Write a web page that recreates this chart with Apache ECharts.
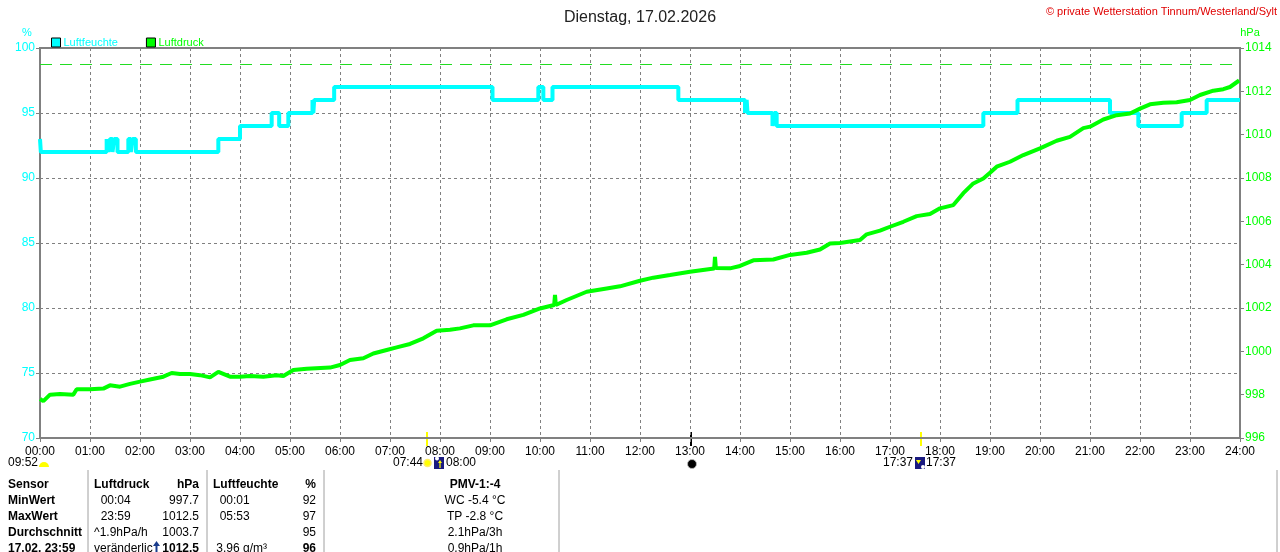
<!DOCTYPE html>
<html>
<head>
<meta charset="utf-8">
<script src="https://cdn.jsdelivr.net/npm/echarts@6.0.0/dist/echarts.min.js"></script>
<style>
  html, body { margin: 0; padding: 0; background: #fff; }
  #chart-container { width: 1280px; height: 552px; }
</style>
</head>
<body>
<div id="chart-container"></div>
<script>
// Tick labels
const xTickLabels = ["00:00", "01:00", "02:00", "03:00", "04:00", "05:00", "06:00", "07:00", "08:00",
  "09:00", "10:00", "11:00", "12:00", "13:00", "14:00", "15:00", "16:00", "17:00", "18:00",
  "19:00", "20:00", "21:00", "22:00", "23:00", "24:00"];

// Luftdruck (hPa)
const pressureTimes = ["00:00", "00:04", "00:12", "00:24", "00:40", "00:44", "01:00", "01:16", "01:24", "01:36",
  "01:48", "02:00", "02:12", "02:28", "02:38", "02:48", "03:00", "03:12", "03:24", "03:34",
  "03:48", "04:00", "04:12", "04:28", "04:44", "04:52", "05:04", "05:20", "05:48", "06:00",
  "06:12", "06:28", "06:40", "06:56", "07:08", "07:24", "07:40", "07:56", "08:12", "08:24",
  "08:40", "09:00", "09:20", "09:40", "10:00", "10:17", "10:18", "10:19", "10:32", "10:56",
  "11:20", "11:36", "12:00", "12:16", "12:36", "13:00", "13:20", "13:29", "13:30", "13:31",
  "13:48", "14:00", "14:16", "14:40", "15:00", "15:20", "15:36", "15:48", "16:00", "16:24",
  "16:32", "16:48", "17:00", "17:16", "17:32", "17:48", "18:00", "18:16", "18:28", "18:40",
  "18:52", "19:00", "19:08", "19:24", "19:40", "20:00", "20:20", "20:36", "20:52", "21:00",
  "21:16", "21:32", "21:48", "22:00", "22:12", "22:28", "22:44", "23:00", "23:12", "23:28",
  "23:40", "23:48", "23:59"];
const pressureValues = [997.8, 997.7, 998.0, 998.03, 998.0, 998.25, 998.25, 998.28, 998.43, 998.37,
  998.5, 998.6, 998.7, 998.83, 999.0, 998.95, 998.95, 998.9, 998.8, 999.05,
  998.83, 998.83, 998.86, 998.83, 998.9, 998.86, 999.14, 999.2, 999.25, 999.37,
  999.6, 999.68, 999.9, 1000.06, 1000.18, 1000.34, 1000.6, 1000.95, 1001.0, 1001.06,
  1001.2, 1001.2, 1001.48, 1001.68, 1001.98, 1002.14, 1002.6, 1002.14, 1002.37, 1002.75,
  1002.9, 1003.0, 1003.26, 1003.4, 1003.52, 1003.67, 1003.78, 1003.82, 1004.36, 1003.85,
  1003.83, 1003.94, 1004.2, 1004.24, 1004.45, 1004.55, 1004.7, 1004.98, 1005.0, 1005.14,
  1005.4, 1005.57, 1005.75, 1005.98, 1006.24, 1006.34, 1006.6, 1006.75, 1007.3, 1007.75,
  1007.98, 1008.24, 1008.52, 1008.75, 1009.06, 1009.37, 1009.72, 1009.9, 1010.3, 1010.37,
  1010.7, 1010.9, 1010.98, 1011.2, 1011.4, 1011.47, 1011.5, 1011.6, 1011.83, 1012.03,
  1012.1, 1012.2, 1012.5];

// Luftfeuchte (%), value holds from its time until the next one
const humidityTimes = ["00:00", "00:01", "01:20", "01:22", "01:24", "01:27", "01:29", "01:33", "01:46", "01:49",
  "01:51", "01:55", "03:34", "04:00", "04:38", "04:47", "04:58", "05:27", "05:28", "05:29",
  "05:53", "09:03", "09:58", "10:04", "10:15", "12:46", "14:06", "14:08", "14:09", "14:39",
  "14:41", "14:44", "18:52", "19:33", "21:24", "21:58", "22:50", "23:20", "24:00"];
const humidityValues = [93, 92, 93, 92, 93, 92, 93, 92, 93, 92,
  93, 92, 93, 94, 95, 94, 95, 96, 95, 96,
  97, 96, 97, 96, 97, 96, 95, 96, 95, 94,
  95, 94, 95, 96, 95, 94, 95, 96, 96];

const normalPressure = 1013.25;

const CYAN = "#00ffff";
const GREEN = "#00ff00";
const GRAY = "#808080";
const FONT = "'Liberation Sans', Arial, sans-serif";

function toHours(t) {
  const [h, m] = t.split(":").map(Number);
  return h + m / 60;
}

const pressureData = pressureTimes.map((t, i) => [toHours(t), pressureValues[i]]);
const humidityData = humidityTimes.map((t, i) => [toHours(t), humidityValues[i]]);

// Tabelle unten
const tableRows = [
  ["Sensor", "Luftdruck", "hPa", "Luftfeuchte", "%", "PMV-1:-4"],
  ["MinWert", "  00:04", "997.7", "  00:01", "92", "WC -5.4 °C"],
  ["MaxWert", "  23:59", "1012.5", "  05:53", "97", "TP -2.8 °C"],
  ["Durchschnitt", "^1.9hPa/h", "1003.7", "", "95", "2.1hPa/3h"],
  ["17.02. 23:59", "veränderlich", "1012.5", " 3.96 g/m³", "96", "0.9hPa/1h"]
];

function tableGraphics() {
  const els = [];
  const rowY = [485, 501, 517, 533, 549];
  tableRows.forEach((row, r) => {
    const y = rowY[r];
    const base = { fontFamily: FONT, fontSize: 12, fill: "#000", verticalAlign: "middle" };
    const bold = r === 0;
    const lastBold = r === 4;
    els.push({ type: "text", x: 8, y: y, style: Object.assign({}, base, { text: row[0], fontWeight: "bold" }) });
    els.push({ type: "text", x: 94, y: y, style: Object.assign({}, base, { text: row[1], fontWeight: bold ? "bold" : "normal",
      width: r === 4 ? 62 : undefined, overflow: r === 4 ? "truncate" : undefined, ellipsis: "" }) });
    els.push({ type: "text", x: 199, y: y, style: Object.assign({}, base, { text: row[2], align: "right", fontWeight: (bold || lastBold) ? "bold" : "normal" }) });
    els.push({ type: "text", x: 213, y: y, style: Object.assign({}, base, { text: row[3], fontWeight: bold ? "bold" : "normal" }) });
    els.push({ type: "text", x: 316, y: y, style: Object.assign({}, base, { text: row[4], align: "right", fontWeight: (bold || lastBold) ? "bold" : "normal" }) });
    els.push({ type: "text", x: 475, y: y, style: Object.assign({}, base, { text: row[5], align: "center", fontWeight: bold ? "bold" : "normal" }) });
  });
  [88, 207, 324, 559].forEach(x => {
    els.push({ type: "line", shape: { x1: x, y1: 470, x2: x, y2: 552 }, style: { stroke: "#a0a0a0", lineWidth: 1 } });
  });
  els.push({ type: "line", shape: { x1: 1277, y1: 470, x2: 1277, y2: 552 }, style: { stroke: "#a0a0a0", lineWidth: 1 } });
  // Tendenzpfeil
  els.push({ type: "rect", shape: { x: 153, y: 540, width: 7, height: 12 }, style: { fill: "#fff" } });
  els.push({ type: "polyline", shape: { points: [[156.5, 552], [156.5, 543]] }, style: { stroke: "#1a3c8c", lineWidth: 2 } });
  els.push({ type: "polygon", shape: { points: [[153, 546], [156.5, 541], [160, 546]] }, style: { fill: "#1a3c8c" } });
  return els;
}

function sunMoonGraphics() {
  const txt = (t, x, align) => ({ type: "text", x: x, y: 463,
    style: { text: t, fontFamily: FONT, fontSize: 12, fill: "#000", align: align, verticalAlign: "middle" } });
  return [
    // Marker ticks at the x axis
    { type: "line", shape: { x1: 427, y1: 432, x2: 427, y2: 446 }, style: { stroke: "#ffff00", lineWidth: 2 } },
    { type: "line", shape: { x1: 921, y1: 432, x2: 921, y2: 446 }, style: { stroke: "#ffff00", lineWidth: 2 } },
    { type: "line", shape: { x1: 691, y1: 432, x2: 691, y2: 446 }, style: { stroke: "#000", lineWidth: 2 } },
    // Mond
    txt("09:52", 38, "right"),
    { type: "sector", shape: { cx: 44, cy: 467, r0: 0, r: 5, startAngle: Math.PI, endAngle: 2 * Math.PI }, style: { fill: "#ffff00" } },
    // Sonnenaufgang
    txt("07:44", 423, "right"),
    { type: "circle", shape: { cx: 427.5, cy: 463, r: 3.5 }, style: { fill: "#ffff00", stroke: "#ffee66", lineWidth: 1.5 } },
    { type: "rect", shape: { x: 434, y: 457, width: 10, height: 12 }, style: { fill: "#1a1a80" } },
    { type: "circle", shape: { cx: 437, cy: 458.5, r: 2 }, style: { fill: "#fff" } },
    { type: "polygon", shape: { points: [[438, 463], [440, 460], [442, 463]] }, style: { fill: "#ffff00" } },
    { type: "line", shape: { x1: 440, y1: 462, x2: 440, y2: 468 }, style: { stroke: "#ffff00", lineWidth: 1.2 } },
    txt("08:00", 446, "left"),
    // Mondphase
    { type: "circle", shape: { cx: 692, cy: 464, r: 4.5 }, style: { fill: "#000", stroke: "#bbb", lineWidth: 0.8 } },
    // Sonnenuntergang
    txt("17:37", 913, "right"),
    { type: "rect", shape: { x: 915, y: 457, width: 10, height: 12 }, style: { fill: "#1a1a80" } },
    { type: "polygon", shape: { points: [[916, 460], [918.5, 464], [921, 460]] }, style: { fill: "#ffff00" } },
    { type: "circle", shape: { cx: 923, cy: 467, r: 2 }, style: { fill: "#fff" } },
    txt("17:37", 926, "left")
  ];
}

const dom = document.getElementById("chart-container");
const myChart = echarts.init(dom, null, { renderer: "canvas" });

const option = {
  animation: false,
  backgroundColor: "#fff",
  textStyle: { fontFamily: FONT },
  title: {
    text: "Dienstag, 17.02.2026",
    left: "center",
    top: 5,
    textStyle: { fontSize: 16, fontWeight: "normal", color: "#222", fontFamily: FONT }
  },
  legend: {
    left: 46,
    top: 32,
    itemWidth: 9,
    itemHeight: 9,
    itemGap: 28,
    icon: "rect",
    textStyle: { fontSize: 11, fontFamily: FONT, padding: [0, 0, 0, -2] },
    data: [
      { name: "Luftfeuchte", textStyle: { color: CYAN }, itemStyle: { color: CYAN, borderColor: "#000", borderWidth: 1 } },
      { name: "Luftdruck", textStyle: { color: GREEN }, itemStyle: { color: GREEN, borderColor: "#000", borderWidth: 1 } }
    ]
  },
  grid: {
    left: 40, right: 40, top: 48, bottom: 114,
    show: true, borderColor: GRAY, borderWidth: 2, backgroundColor: "transparent"
  },
  xAxis: {
    type: "value",
    min: 0, max: 24, interval: 1,
    axisLine: { lineStyle: { color: GRAY, width: 2 } },
    axisTick: { length: 4, lineStyle: { color: GRAY } },
    axisLabel: { color: "#000", fontSize: 12, margin: 8, formatter: v => xTickLabels[v] },
    splitLine: { show: true, lineStyle: { color: GRAY, type: [3, 3], width: 1 } }
  },
  yAxis: [
    {
      type: "value", position: "left",
      min: 70, max: 100, interval: 5,
      axisLine: { show: true, lineStyle: { color: GRAY, width: 2 } },
      axisTick: { show: true, length: 4, lineStyle: { color: GRAY } },
      axisLabel: { color: CYAN, fontSize: 12, margin: 5, formatter: v => String(v) },
      splitLine: { show: true, lineStyle: { color: GRAY, type: [3, 3], width: 1 } }
    },
    {
      type: "value", position: "right",
      min: 996, max: 1014, interval: 2,
      axisLine: { show: true, lineStyle: { color: GRAY, width: 2 } },
      axisTick: { show: true, length: 4, lineStyle: { color: GRAY } },
      axisLabel: { color: GREEN, fontSize: 12, margin: 5, formatter: v => String(v) },
      splitLine: { show: false }
    }
  ],
  graphic: [
    { type: "text", x: 1277, y: 12, style: { text: "© private Wetterstation Tinnum/Westerland/Sylt",
      fontFamily: FONT, fontSize: 11, fill: "#e00000", align: "right", verticalAlign: "middle" } },
    { type: "text", x: 27, y: 33, style: { text: "%", fontFamily: FONT, fontSize: 11, fill: CYAN, align: "center", verticalAlign: "middle" } },
    { type: "text", x: 1250, y: 33, style: { text: "hPa", fontFamily: FONT, fontSize: 11, fill: GREEN, align: "center", verticalAlign: "middle" } }
  ].concat(sunMoonGraphics(), tableGraphics()),
  series: [
    {
      name: "Luftfeuchte",
      type: "line",
      yAxisIndex: 0,
      step: "end",
      showSymbol: false,
      data: humidityData,
      lineStyle: { color: CYAN, width: 4 },
      itemStyle: { color: CYAN },
      z: 3
    },
    {
      name: "Luftdruck",
      type: "line",
      yAxisIndex: 1,
      showSymbol: false,
      data: pressureData,
      lineStyle: { color: GREEN, width: 4 },
      itemStyle: { color: GREEN },
      z: 4,
      markLine: {
        silent: true,
        symbol: "none",
        label: { show: false },
        lineStyle: { color: "#22dd22", type: [12, 8], width: 1 },
        data: [{ yAxis: normalPressure }]
      }
    }
  ]
};

myChart.setOption(option);
window.addEventListener("resize", myChart.resize);
</script>
</body>
</html>
